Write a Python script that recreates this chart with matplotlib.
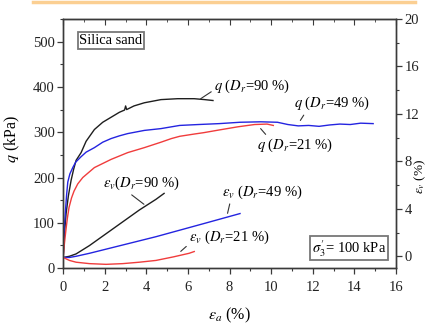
import matplotlib
matplotlib.use('Agg')
import matplotlib.pyplot as plt
from matplotlib.ticker import MultipleLocator

plt.rcParams['font.family'] = ['Liberation Serif', 'DejaVu Serif']
plt.rcParams['mathtext.fontset'] = 'stix'

#=======================
# Data

# deviator stress q (kPa) vs axial strain (%)
ea_q90 = [0, 0.05, 0.14, 0.25, 0.38, 0.5, 0.62, 0.86, 1.1, 1.5, 1.9, 2.3, 2.7, 2.95, 3.0, 3.05, 3.4, 3.9,
          4.7, 5.5, 6.3, 6.8, 7.2]
q90 = [24, 70, 121, 160, 194, 218, 238, 255, 280, 306, 322, 333, 344, 349, 358, 350, 358, 365,
       372, 374, 374, 372, 370]

ea_q49 = [0, 0.04, 0.1, 0.16, 0.22, 0.32, 0.46, 0.6, 0.86, 1.1, 1.5, 1.9, 2.3, 2.7, 3.1, 3.9, 4.7, 5.6,
          6.5, 7.5, 8.5, 9.5, 10.3, 10.8, 11.3, 11.8, 12.3, 12.8, 13.3, 13.8, 14.3, 14.9]
q49 = [24, 80, 121, 160, 190, 208, 222, 234, 246, 256, 266, 278, 286, 292, 297, 304, 308, 315,
       317, 319, 322, 323, 322, 317, 314, 315, 313, 316, 318, 317, 320, 319]

ea_q21 = [0, 0.06, 0.13, 0.2, 0.28, 0.4, 0.52, 0.7, 0.94, 1.5, 2.3, 3.1, 3.9, 4.7, 5.2, 5.6, 6.3,
          6.75, 7.5, 8.4, 9.2, 9.8, 10.1]
q21 = [24, 55, 84, 110, 134, 155, 170, 186, 200, 222, 240, 255, 266, 278, 286, 291, 296,
       299, 305, 312, 317, 318, 315]

# volumetric strain (%) vs axial strain (%)
ea_v90 = [0, 0.3, 0.62, 1.26, 2.06, 2.86, 3.66, 4.46, 4.85]
ev90 = [-0.1, 0.0, 0.2, 0.9, 1.9, 2.9, 3.9, 4.8, 5.3]

ea_v49 = [0, 0.3, 0.62, 1.26, 2.86, 4.46, 6.85, 8.5]
ev49 = [-0.1, -0.1, 0.0, 0.25, 0.95, 1.65, 2.8, 3.6]

ea_v21 = [0, 0.3, 0.62, 1.26, 2.06, 2.86, 3.66, 4.46, 5.3, 6.05, 6.3]
ev21 = [-0.1, -0.35, -0.5, -0.62, -0.68, -0.62, -0.5, -0.35, -0.05, 0.25, 0.4]

#=======================
# Plot

fig = plt.figure(figsize=(4.3, 3.27), dpi=100)
ax = fig.add_axes([0.147, 0.180, 0.774, 0.762])
ax2 = ax.twinx()

c_blk = '#1e1e1e'
c_blu = '#2424e0'
c_red = '#f03c3c'
lw = 1.0

ax.plot(ea_q90, q90, color=c_blk, lw=lw)
ax.plot(ea_q49, q49, color=c_blu, lw=lw)
ax.plot(ea_q21, q21, color=c_red, lw=lw)
ax2.plot(ea_v90, ev90, color=c_blk, lw=lw)
ax2.plot(ea_v49, ev49, color=c_blu, lw=lw)
ax2.plot(ea_v21, ev21, color=c_red, lw=lw)

ax.set_xlim(0, 16)
ax.set_ylim(0, 550)
ax2.set_ylim(-1, 20)

ax.xaxis.set_major_locator(MultipleLocator(2))
ax.xaxis.set_minor_locator(MultipleLocator(1))
ax.yaxis.set_major_locator(MultipleLocator(100))
ax.yaxis.set_minor_locator(MultipleLocator(50))
ax2.yaxis.set_major_locator(MultipleLocator(4))
ax2.yaxis.set_minor_locator(MultipleLocator(2))

fs = 10.5
tfs = 10.5
frame = '#3a3a3a'
for a in (ax, ax2):
    for sp in a.spines.values():
        sp.set_color(frame)
        sp.set_linewidth(1.0)
ax.tick_params(axis='both', which='major', direction='out', length=4, width=0.9,
               colors=frame, labelsize=tfs, labelcolor='#222')
ax.tick_params(axis='both', which='minor', direction='out', length=2.5, width=0.8, colors=frame)
ax.tick_params(axis='x', which='major', pad=5)
ax.tick_params(axis='y', which='major', pad=2)
ax2.tick_params(axis='y', which='major', direction='out', length=4, width=0.9, pad=2,
                colors=frame, labelsize=tfs, labelcolor='#222')
ax2.tick_params(axis='y', which='minor', direction='out', length=2.5, width=0.8, colors=frame)

top = ax.secondary_xaxis('top')
top.xaxis.set_major_locator(MultipleLocator(2))
top.xaxis.set_minor_locator(MultipleLocator(1))
top.tick_params(which='both', direction='in', labeltop=False, colors=frame)
top.tick_params(which='major', length=4)
top.tick_params(which='minor', length=2.5)
top.spines['top'].set_color(frame)

ax.set_xlabel(r'$\varepsilon_a$ (%)', fontsize=11.5)
ax.xaxis.set_label_coords(0.5, -0.15)
ax.set_ylabel(r'$q$ (kPa)', fontsize=11.5)
ax.yaxis.set_label_coords(-0.125, 0.52)
ax2.set_ylabel(r'$\varepsilon_v$ (%)', fontsize=9.5)
ax2.yaxis.set_label_coords(1.05, 0.37)

# boxed notes
box = dict(boxstyle='square,pad=0.12', fc='white', ec='#777777', lw=1.3)
ax.text(2.3, 502, 'Silica sand', fontsize=fs, ha='center', va='center', bbox=box)
ax.text(13.75, 44, r"$\sigma_3'$= 100 kPa", fontsize=fs, ha='center', va='center', bbox=box)

# curve labels with leader lines
def lab(txt, xy, xytext, rel):
    ax.annotate(txt, xy=xy, xytext=xytext, fontsize=fs, ha='left', va='center',
                arrowprops=dict(arrowstyle='-', color='#333', lw=0.8,
                                shrinkA=0, shrinkB=0, relpos=rel))

lab(r'$q$ ($D_r$=90 %)', (6.61, 374), (7.25, 401), (0.0, 0.3))
lab(r'$q$ ($D_r$=49 %)', (11.4, 326), (11.1, 363), (0.15, 0.0))
lab(r'$q$ ($D_r$=21 %)', (9.49, 308), (9.3, 270), (0.15, 1.0))
lab(r'$\varepsilon_v$($D_r$=90 %)', (3.88, 141), (1.9, 187), (0.33, 0.0))
lab(r'$\varepsilon_v$ ($D_r$=49 %)', (7.9, 121), (7.65, 167), (0.1, 0.0))
lab(r'$\varepsilon_v$ ($D_r$=21 %)', (5.65, 37), (6.05, 68), (0.02, 0.2))

# orange strip along the top edge of the clipping
fig.add_artist(plt.Line2D([33 / 430, 415 / 430], [1 - 2 / 327, 1 - 2 / 327],
                          color='#fbcf92', lw=2.5, transform=fig.transFigure))

fig.savefig('out.png', dpi=100)
